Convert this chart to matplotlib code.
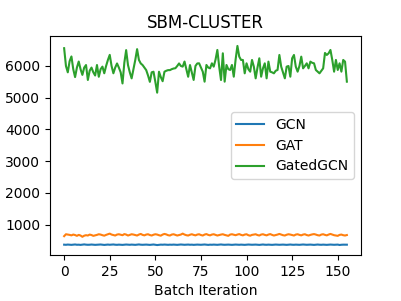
import matplotlib
matplotlib.use("Agg")
import matplotlib.pyplot as plt
import numpy as np

title = "SBM-CLUSTER"
xlabel = "Batch Iteration"
labels = ["GCN", "GAT", "GatedGCN"]

gcn = [372, 368, 375, 370, 366, 372, 378, 369, 371, 365, 374, 380, 372, 368, 370, 376, 371, 366, 369, 373,
       377, 370, 364, 371, 375, 369, 372, 378, 370, 367, 373, 370, 365, 371, 376, 372, 368, 374, 370, 366,
       372, 379, 371, 368, 370, 374, 369, 365, 372, 377, 370, 360, 368, 373, 370, 375, 371, 367, 372, 369,
       374, 370, 366, 371, 377, 372, 368, 370, 375, 369, 372, 366, 371, 374, 370, 368, 373, 377, 370, 365,
       372, 369, 374, 370, 367, 372, 378, 371, 368, 370, 374, 369, 366, 372, 375, 370, 368, 373, 370, 366,
       371, 376, 372, 369, 370, 374, 368, 365, 372, 377, 370, 368, 373, 370, 366, 371, 375, 372, 368, 370,
       374, 369, 366, 372, 376, 370, 368, 373, 370, 367, 372, 377, 371, 368, 370, 374, 369, 365, 372, 376,
       370, 368, 373, 370, 366, 371, 375, 372, 368, 370, 374, 362, 369, 372, 370, 371]

gat = [640, 700, 690, 680, 665, 690, 675, 650, 680, 660, 620, 655, 670, 660, 690, 675, 650, 665, 680, 700,
       690, 670, 655, 680, 700, 720, 690, 675, 660, 690, 700, 685, 670, 705, 690, 660, 680, 700, 690, 675,
       660, 690, 710, 680, 665, 690, 700, 675, 660, 685, 700, 690, 670, 655, 690, 710, 695, 670, 660, 690,
       700, 680, 660, 675, 690, 720, 690, 670, 660, 685, 700, 680, 665, 690, 700, 675, 660, 690, 705, 680,
       665, 690, 700, 680, 660, 675, 690, 700, 680, 665, 650, 690, 700, 685, 670, 690, 705, 680, 665, 690,
       700, 670, 655, 680, 690, 700, 675, 660, 690, 700, 680, 665, 690, 705, 680, 660, 675, 690, 710, 690,
       670, 660, 685, 700, 690, 675, 660, 690, 700, 680, 665, 690, 700, 675, 660, 680, 695, 705, 690, 670,
       660, 690, 700, 680, 665, 690, 710, 690, 670, 660, 650, 680, 690, 670, 660, 675]

gatedgcn = [6560, 6000, 5800, 6150, 6300, 5900, 5650, 5950, 6140, 5900, 5720, 5950, 6030, 5560, 5850, 5950, 5800, 5700, 6030, 5660,
            5900, 5980, 5770, 6000, 6190, 6350, 6000, 5770, 5950, 6080, 5950, 5800, 5450, 6100, 6500, 6030, 5800, 5610, 5900, 6190,
            6530, 6190, 6080, 6030, 5950, 5870, 5700, 5500, 5800, 5820, 5500, 5160, 5820, 5650, 5520, 5820, 5850, 5870, 5870, 5900,
            5920, 5930, 6000, 6080, 6000, 5980, 6140, 5900, 5660, 6030, 5800, 5560, 6000, 6080, 6084, 5950, 5821, 5506, 6032, 5950,
            5926, 6084, 5979, 6200, 6505, 5979, 5558, 6400, 5506, 6032, 5900, 5874, 6032, 5663, 6200, 6631, 6295, 6190, 6190, 5769,
            6084, 5900, 5821, 6190, 5979, 5611, 5950, 6242, 5663, 5926, 6084, 5611, 6137, 5821, 5800, 5769, 5850, 5874, 6347, 5979,
            5800, 5611, 5979, 6000, 5663, 6242, 6347, 5979, 5821, 6000, 6295, 5926, 6000, 6084, 5926, 6137, 6100, 6084, 5874, 5820,
            5769, 5850, 5926, 6410, 6347, 6400, 6505, 6190, 5821, 6190, 5874, 6084, 5821, 6190, 6137, 5506]

fig = plt.figure(figsize=(4.02, 3.01), dpi=100)
ax = fig.add_axes([50/402, 1-255/301, (361-50)/402, (255-36)/301])
x = np.arange(len(gatedgcn))
ax.plot(x, gcn, color="#1f77b4", label=labels[0])
ax.plot(x, gat, color="#ff7f0e", label=labels[1])
ax.plot(x, gatedgcn, color="#2ca02c", label=labels[2])
ax.set_title(title)
ax.set_xlabel(xlabel)
ax.set_xticks([0, 25, 50, 75, 100, 125, 150])
ax.set_yticks([1000, 2000, 3000, 4000, 5000, 6000])
ax.legend(loc="center right")
fig.savefig("out.png", dpi=100)
